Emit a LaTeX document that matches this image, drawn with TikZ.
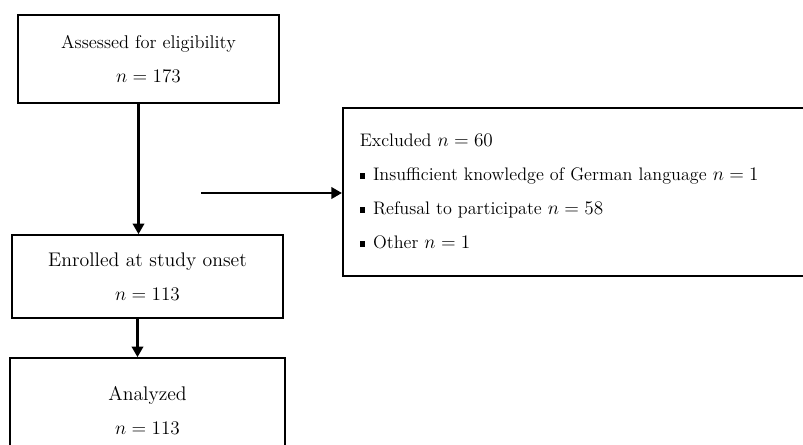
\documentclass[tikz,border=0pt]{standalone}
\usetikzlibrary{arrows.meta}
\newcommand{\exbullet}{\rule[0.3ex]{0.28em}{0.28em}\hspace{0.45em}}
\begin{document}
\begin{tikzpicture}[x=0.75pt,y=-0.75pt,
    box/.style={draw, line width=1.2pt, align=center, inner sep=0pt},
    flow/.style={line width=2.2pt, -{Triangle[length=8pt,width=8.5pt]}}]
  \useasboundingbox (0,0) rectangle (803,444);
  \clip (0,0) rectangle (803,444);
  \node [box, minimum width=195.75pt, minimum height=66pt, font=\fontsize{13.8}{26}\selectfont] (assessed) at (148.5,59) {Assessed for eligibility\\ $n = 173$};
  \node [box, minimum width=203.25pt, minimum height=62.25pt, font=\fontsize{14.8}{26}\selectfont] (enrolled) at (147.5,276.5) {Enrolled at study onset\\ $n = 113$};
  \node [box, minimum width=206.25pt, minimum height=78pt, font=\fontsize{14.8}{25.5}\selectfont] (analyzed) at (147.5,410) {Analyzed\\ $n = 113$};
  \node [box, anchor=north west, align=left, text width=325.5pt, inner xsep=12.75pt, minimum height=126pt, font=\fontsize{13.6}{25.5}\selectfont] (excluded) at (342,107) {Excluded $n = 60$\\ \exbullet Insufficient knowledge of German language $n = 1$\\ \exbullet Refusal to participate $n = 58$\\ \exbullet Other $n = 1$};
  \coordinate (trunk) at ([xshift=-7.5pt]assessed.south);
  \coordinate (stem) at ([xshift=-7.5pt]enrolled.south);
  \coordinate (branch) at (201,193);
  \draw [flow] (trunk) -- (trunk |- enrolled.north);
  \draw [flow] (stem) -- (stem |- analyzed.north);
  \draw [flow] (branch) -- (branch -| excluded.west);
\end{tikzpicture}
\end{document}
